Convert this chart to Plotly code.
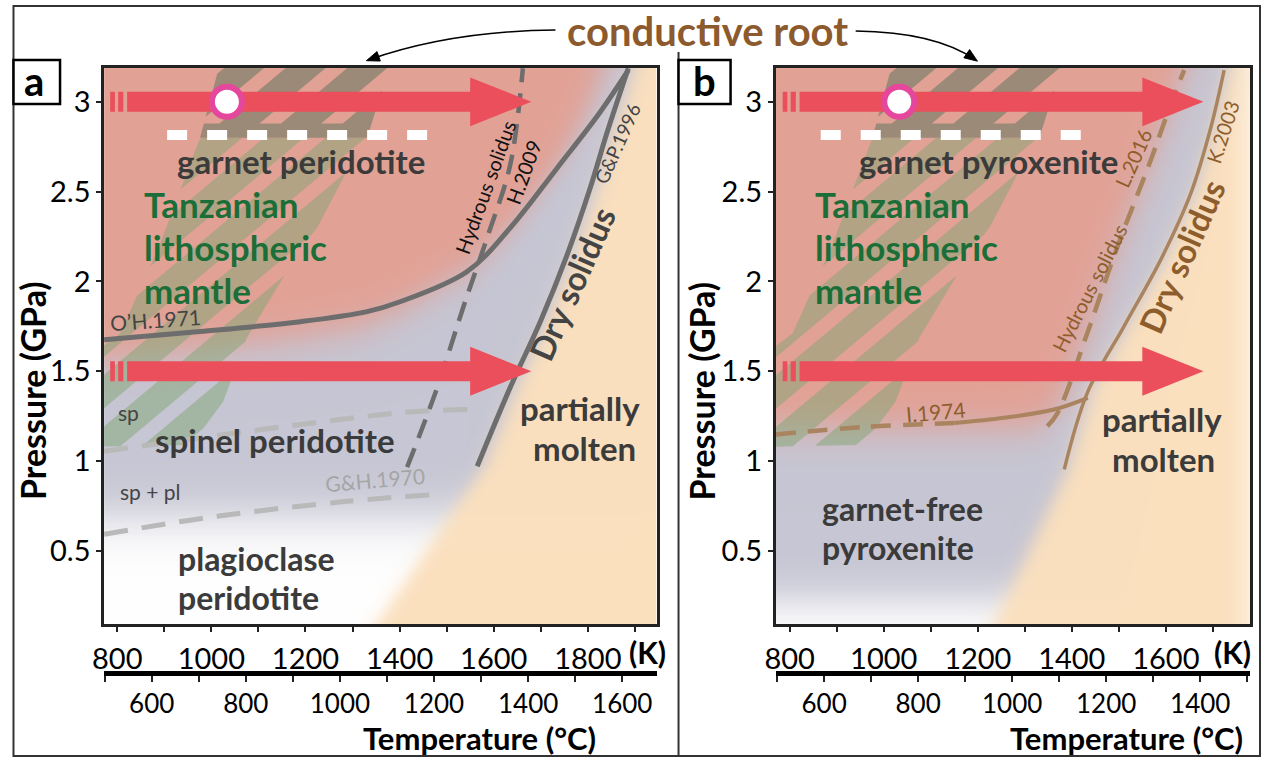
import numpy as np
import plotly.graph_objects as go
import zlib, struct, base64

# ------------------------------------------------------------------ data
# panel a : peridotite (K, GPa)
oh_K = [772, 976, 1189, 1331, 1401, 1543, 1635, 1735, 1826, 1886]           # O'H.1971
oh_P = [1.675, 1.721, 1.776, 1.832, 1.887, 2.054, 2.298, 2.632, 2.942, 3.176]
gp_K = [1565, 1635, 1699, 1756, 1805, 1841, 1869, 1886]                      # G&P.1996 dry solidus
gp_P = [0.971, 1.409, 1.776, 2.148, 2.52, 2.83, 3.053, 3.187]
h09_K = [1416, 1480, 1535, 1588, 1635, 1662]                                  # H.2009 hydrous solidus
h09_P = [0.966, 1.409, 1.854, 2.259, 2.648, 3.187]
ghu_K = [772, 1401, 1545]                                                     # G&H.1970 sp / sp+pl
ghu_P = [1.054, 1.269, 1.287]
ghl_K = [772, 1012, 1288, 1482]                                               # G&H.1970 sp+pl / pl
ghl_P = [0.593, 0.693, 0.776, 0.815]
melt_a_P = [0.0, 0.971, 1.409, 1.776, 2.148, 2.52, 2.83, 3.053, 3.25]
melt_a_K = [1328, 1580, 1650, 1714, 1771, 1820, 1856, 1884, 1905]

# panel b : pyroxenite
k03_K = [1384, 1433, 1511, 1589, 1653, 1696, 1724]                            # K.2003 dry solidus
k03_P = [0.954, 1.38, 1.75, 2.12, 2.49, 2.86, 3.176]
l16_K = [1348, 1370, 1433, 1497, 1568, 1611, 1639]                            # L.2016 hydrous solidus
l16_P = [1.194, 1.269, 1.713, 2.194, 2.676, 2.991, 3.176]
i74d_K = [770, 960, 1150]                                                     # I.1974 (dashed part)
i74d_P = [1.148, 1.19, 1.212]
i74_K = [1150, 1256, 1362, 1434]                                              # I.1974 (solid part)
i74_P = [1.212, 1.241, 1.287, 1.352]
melt_b_P = [0.0, 0.954, 1.38, 1.75, 2.12, 2.49, 2.86, 3.25]
melt_b_K = [1218, 1392, 1441, 1519, 1597, 1661, 1704, 1740]

# geotherm arrows / xenolith
arrow_P = [3.0, 1.5]
arrow_K = [821, 1550, 1680]          # bar start, head base, tip
stub_K = [[785, 795], [802, 813]]
xeno_K, xeno_P = 1033, 3.0
dash_P = 2.815
dash_a_K = [906, 1459]
dash_b_K = [866, 1419]

# Tanzanian lithospheric mantle band
band_K = [1022, 1385, 1331, 1301, 1225, 1189, 1076, 1025, 957, 760, 760, 806, 890, 976]
band_P = [3.25, 3.25, 2.80, 2.68, 2.30, 2.18, 1.69, 1.33, 1.09, 1.08, 1.62, 1.71, 2.20, 2.80]
stripe_starts = [-427 + 131 * n for n in range(8)]
stripe_w = 85
stripe_slope = 456.0
band_cut = [2.80, 2.88]

xr_a = [772, 1946]
xr_b = [770, 1779]
yr = [0.093, 3.19]
C0 = 273.15

# ------------------------------------------------------------------ helpers
W, H = 1262, 757
SX, OX = 0.9897, 12.0          # page -> picture horizontal mapping of the capture
def px(x):
    return ((x - OX) / SX) / W
def py(y):
    return 1 - y / H
def gpa(y):
    return (641.7 - y) / 180.0

def sig(z):
    return 1.0 / (1.0 + np.exp(-np.clip(z, -60, 60)))

RED = np.array([227, 161, 149.0])
LAV = np.array([198, 198, 212.0])
WHI = np.array([255, 255, 255.0])
PEA = np.array([251, 224, 190.0])

def mix(a, b, t):
    return a * (1 - t[..., None]) + b * t[..., None]

def full(c, shape):
    return np.broadcast_to(c, shape + (3,))

def field_a(nx, ny):
    K = np.linspace(xr_a[0], xr_a[1], nx)[None, :] * np.ones((ny, 1))
    P = np.linspace(yr[1], yr[0], ny)[:, None] * np.ones((1, nx))
    p_oh = np.interp(K, oh_K, oh_P)
    off = np.interp(K, [772, 1300, 1520], [-0.12, -0.08, 0.0])
    r = sig((P - (p_oh + off)) / 0.06) * sig((np.interp(P, gp_P, gp_K) - 50 - K) / 20)
    wh = sig((0.68 - P) / 0.08)
    o = sig((K - np.interp(P, melt_a_P, melt_a_K)) / 12)
    c = mix(full(LAV, K.shape), full(WHI, K.shape), wh)
    c = mix(c, full(RED, K.shape), r)
    c = mix(c, full(PEA, K.shape), o)
    return np.clip(c, 0, 255).astype(np.uint8)

def field_b(nx, ny):
    K = np.linspace(xr_b[0], xr_b[1], nx)[None, :] * np.ones((ny, 1))
    P = np.linspace(yr[1], yr[0], ny)[:, None] * np.ones((1, nx))
    r = sig((P - 1.18) / 0.06) * sig((np.interp(P, l16_P, l16_K) - K) / 20)
    wh = sig((0.22 - P) / 0.07)
    o = sig((K - np.interp(P, melt_b_P, melt_b_K)) / 12)
    fade = 0.5 * sig((K - 1762) / 12)
    c = mix(full(LAV, K.shape), full(WHI, K.shape), wh)
    c = mix(c, full(RED, K.shape), r)
    pe = mix(full(PEA, K.shape), full(WHI, K.shape), fade)
    c = mix(c, pe, o)
    return np.clip(c, 0, 255).astype(np.uint8)

def png_uri(rgb):
    h, w, _ = rgb.shape
    raw = b''.join(b'\x00' + rgb[i].tobytes() for i in range(h))
    def chunk(tag, data):
        return struct.pack('>I', len(data)) + tag + data + struct.pack('>I', zlib.crc32(tag + data) & 0xffffffff)
    png = (b'\x89PNG\r\n\x1a\n' + chunk(b'IHDR', struct.pack('>IIBBBBB', w, h, 8, 2, 0, 0, 0))
           + chunk(b'IDAT', zlib.compress(raw, 9)) + chunk(b'IEND', b''))
    return 'data:image/png;base64,' + base64.b64encode(png).decode()

def clip(poly, a, b, c0):
    out = []
    n = len(poly)
    for i in range(n):
        p, q = poly[i], poly[(i + 1) % n]
        fp = a * p[0] + b * p[1] + c0
        fq = a * q[0] + b * q[1] + c0
        if fp >= 0:
            out.append(p)
        if (fp >= 0) != (fq >= 0):
            t = fp / (fp - fq)
            out.append((p[0] + t * (q[0] - p[0]), p[1] + t * (q[1] - p[1])))
    return out

def band_polys():
    env = list(zip(band_K, band_P))
    dark, olive = [], []
    for h0 in stripe_starts:
        s = clip(env, 1.0, -stripe_slope, -h0)
        s = clip(s, -1.0, stripe_slope, h0 + stripe_w)
        up = clip(s, 0.0, 1.0, -band_cut[1])
        lo = clip(s, 0.0, -1.0, band_cut[0])
        if len(up) > 2:
            dark.append(up)
        if len(lo) > 2:
            olive.append(lo)
    dark.append(clip(clip(env, 0.0, 1.0, -band_cut[0]), 0.0, -1.0, band_cut[1]))
    return dark, olive

def join(polys):
    xs, ys = [], []
    for p in polys:
        xs += [q[0] for q in p] + [p[0][0], None]
        ys += [q[1] for q in p] + [p[0][1], None]
    return xs, ys

fig = go.Figure()
GRAY = '#6d6d6d'
LGRAY = '#b9b9b9'
BROWN = '#a9845f'
BTXT = '#8e5d2c'
DARK = '#3b3b3b'
GREEN = '#1b6e38'
ARROW = '#ea4f5b'

def add_band(xa, ya):
    dark, olive = band_polys()
    x, y = join(olive)
    fig.add_trace(go.Scatter(x=x, y=y, fill='toself', fillcolor='rgba(128,165,115,0.5)', mode='lines',
                             line=dict(width=0), xaxis=xa, yaxis=ya, hoverinfo='skip'))
    x, y = join(dark)
    fig.add_trace(go.Scatter(x=x, y=y, fill='toself', fillcolor='#9b8a78', mode='lines',
                             line=dict(width=0), xaxis=xa, yaxis=ya, hoverinfo='skip'))

def add_line(xa, ya, k, p, color, width, dash='solid', shape='spline'):
    fig.add_trace(go.Scatter(x=k, y=p, mode='lines', line=dict(color=color, width=width, dash=dash, shape=shape),
                             xaxis=xa, yaxis=ya, hoverinfo='skip'))

def add_arrows(xa, ya, dash_K):
    fig.add_trace(go.Scatter(x=dash_K, y=[dash_P, dash_P], mode='lines',
                             line=dict(color='white', width=10, dash='20px,20px'), xaxis=xa, yaxis=ya))
    bh, hh = 0.0556, 0.136
    xs, ys = [], []
    for p in arrow_P:
        xs += [arrow_K[0], arrow_K[1], arrow_K[1], arrow_K[2], arrow_K[1], arrow_K[1], arrow_K[0], arrow_K[0], None]
        ys += [p - bh, p - bh, p - hh, p, p + hh, p + bh, p + bh, p - bh, None]
        for s in stub_K:
            xs += [s[0], s[1], s[1], s[0], s[0], None]
            ys += [p - bh, p - bh, p + bh, p + bh, p - bh, None]
    fig.add_trace(go.Scatter(x=xs, y=ys, fill='toself', fillcolor=ARROW, mode='lines', line=dict(width=0),
                             xaxis=xa, yaxis=ya, hoverinfo='skip'))
    fig.add_trace(go.Scatter(x=[xeno_K], y=[xeno_P], mode='markers',
                             marker=dict(size=30, color='white', line=dict(color='#e5479c', width=6)),
                             xaxis=xa, yaxis=ya))

# panel a
add_band('x', 'y')
add_line('x', 'y', ghu_K, ghu_P, LGRAY, 5, '24px,14px')
add_line('x', 'y', ghl_K, ghl_P, LGRAY, 5, '24px,14px')
add_line('x', 'y', h09_K, h09_P, GRAY, 4.5, '20px,11px')
add_line('x', 'y', oh_K, oh_P, GRAY, 5)
add_line('x', 'y', gp_K, gp_P, GRAY, 5)
add_arrows('x', 'y', dash_a_K)

# panel b
add_band('x2', 'y2')
add_line('x2', 'y2', i74d_K, i74d_P, BROWN, 4.5, '20px,12px')
add_line('x2', 'y2', i74_K, i74_P, BROWN, 4)
add_line('x2', 'y2', l16_K, l16_P, BROWN, 4.5, '20px,11px')
add_line('x2', 'y2', k03_K, k03_P, BROWN, 3.5)
add_arrows('x2', 'y2', dash_b_K)

# invisible anchors so that the °C axes are drawn
fig.add_trace(go.Scatter(x=[xr_a[0] - C0, xr_a[1] - C0], y=[-5, -5], mode='markers', marker=dict(opacity=0),
                         xaxis='x3', yaxis='y', hoverinfo='skip'))
fig.add_trace(go.Scatter(x=[xr_b[0] - C0, xr_b[1] - C0], y=[-5, -5], mode='markers', marker=dict(opacity=0),
                         xaxis='x4', yaxis='y2', hoverinfo='skip'))

# ------------------------------------------------------------------ axes
dom_y = [py(624), py(67.7)]
dom_a = [px(104), px(656)]
dom_b = [px(775), px(1249)]
tickfont = dict(family='Lato', size=29, color='black')

def kticks(lo, hi):
    vals = [v for v in range(800, 1901, 100) if lo <= v <= hi]
    return vals, [str(v) if v % 200 == 0 else '' for v in vals]

def cticks(lo, hi):
    vals = [v for v in range(500, 1701, 100) if lo <= v <= hi]
    return vals, [str(v) if v % 200 == 0 else '' for v in vals]

common_x = dict(showline=True, linecolor='#222', linewidth=2.5, mirror=True, ticks='outside', ticklen=5,
                tickwidth=1.5, tickcolor='#222', showgrid=False, zeroline=False, tickfont=tickfont,
                ticklabelstandoff=2, fixedrange=True)
common_y = dict(showline=True, linecolor='#222', linewidth=2.5, mirror=True, ticks='outside', ticklen=5,
                tickwidth=1.5, tickcolor='#222', showgrid=False, zeroline=False, tickfont=tickfont,
                range=yr, tickvals=[0.5, 1, 1.5, 2, 2.5, 3], ticktext=['0.5', '1', '1.5', '2', '2.5', '3'],
                domain=dom_y, fixedrange=True)

va, ta = kticks(*xr_a)
vb, tb = kticks(*xr_b)
ca, cta = cticks(xr_a[0] - C0, xr_a[1] - C0)
cb, ctb = cticks(xr_b[0] - C0, xr_b[1] - C0)
cax = dict(showline=True, linecolor='black', linewidth=5, ticks='outside', ticklen=6, tickwidth=1.5,
           tickcolor='#222', showgrid=False, zeroline=False, tickfont=dict(family='Lato', size=26, color='black'),
           anchor='free', position=py(673), side='bottom', ticklabelstandoff=0, fixedrange=True)

fig.update_layout(
    width=W, height=H, margin=dict(l=0, r=0, t=0, b=0),
    paper_bgcolor='white', plot_bgcolor='white', showlegend=False,
    xaxis=dict(common_x, domain=dom_a, range=xr_a, tickvals=va, ticktext=ta, anchor='y'),
    yaxis=dict(common_y, anchor='x'),
    xaxis2=dict(common_x, domain=dom_b, range=xr_b, tickvals=vb, ticktext=tb, anchor='y2'),
    yaxis2=dict(common_y, anchor='x2'),
    xaxis3=dict(cax, overlaying='x', domain=dom_a, range=[xr_a[0] - C0, xr_a[1] - C0], tickvals=ca, ticktext=cta),
    xaxis4=dict(cax, overlaying='x2', domain=dom_b, range=[xr_b[0] - C0, xr_b[1] - C0], tickvals=cb, ticktext=ctb),
)

fig.add_layout_image(dict(source=png_uri(field_a(460, 460)), xref='x', yref='y', x=xr_a[0], y=yr[1],
                          sizex=xr_a[1] - xr_a[0], sizey=yr[1] - yr[0], sizing='stretch', layer='below',
                          xanchor='left', yanchor='top'))
fig.add_layout_image(dict(source=png_uri(field_b(400, 460)), xref='x2', yref='y2', x=xr_b[0], y=yr[1],
                          sizex=xr_b[1] - xr_b[0], sizey=yr[1] - yr[0], sizing='stretch', layer='below',
                          xanchor='left', yanchor='top'))

# ------------------------------------------------------------------ text
def ann(x, y, text, size, color=DARK, bold=True, angle=0, xanchor='center', xref='x', yref='y'):
    return dict(x=x, y=y, xref=xref, yref=yref, text=(f'<b>{text}</b>' if bold else text), showarrow=False,
                font=dict(family='Lato', size=size, color=color), textangle=angle, xanchor=xanchor,
                yanchor='middle')

labels_a = [
    ('garnet peridotite', 1190, gpa(161), 33, DARK, True, 0, 'center'),
    ('Tanzanian', 853, gpa(204), 35, GREEN, True, 0, 'left'),
    ('lithospheric', 853, gpa(247), 35, GREEN, True, 0, 'left'),
    ('mantle', 853, gpa(290), 35, GREEN, True, 0, 'left'),
    ('O\u2019H.1971', 882, gpa(320), 21, '#444', False, -4, 'center'),
    ('Hydrous solidus', 1582, 2.526, 20, '#111', False, -70, 'center'),
    ('H.2009', 1663, 2.61, 20, '#111', False, -70, 'center'),
    ('G&amp;P.1996', 1862, 2.77, 19, '#444', False, -66, 'center'),
    ('Dry solidus', 1767, 1.99, 33, '#444', True, -66, 'center'),
    ('sp', 823, 1.27, 21, '#444', False, 0, 'center'),
    ('spinel peridotite', 1135, 1.12, 33, DARK, True, 0, 'center'),
    ('sp + pl', 870, 0.83, 21, '#444', False, 0, 'center'),
    ('G&amp;H.1970', 1348, 0.90, 21, '#a5a5a5', False, -5, 'center'),
    ('plagioclase', 925, gpa(559), 32, DARK, True, 0, 'left'),
    ('peridotite', 925, gpa(598), 32, DARK, True, 0, 'left'),
    ('partially', 1784, gpa(409), 33, DARK, True, 0, 'center'),
    ('molten', 1792, gpa(449), 33, DARK, True, 0, 'center'),
]
labels_b = [
    ('garnet pyroxenite', 1223, gpa(161), 33, DARK, True, 0, 'center'),
    ('Tanzanian', 849, gpa(204), 35, GREEN, True, 0, 'left'),
    ('lithospheric', 849, gpa(247), 35, GREEN, True, 0, 'left'),
    ('mantle', 849, gpa(290), 35, GREEN, True, 0, 'left'),
    ('I.1974', 1112, 1.276, 21, BTXT, False, -5, 'center'),
    ('Hydrous solidus', 1437, 1.965, 20, BTXT, False, -63, 'center'),
    ('L.2016', 1530, 2.69, 20, BTXT, False, -66, 'center'),
    ('Dry solidus', 1634, 2.14, 33, BTXT, True, -66, 'center'),
    ('K.2003', 1721, 2.83, 20, BTXT, False, -72, 'center'),
    ('garnet-free', 864, gpa(509), 32, DARK, True, 0, 'left'),
    ('pyroxenite', 864, gpa(548), 32, DARK, True, 0, 'left'),
    ('partially', 1591, gpa(420), 33, DARK, True, 0, 'center'),
    ('molten', 1594, gpa(460), 33, DARK, True, 0, 'center'),
]
anns = []
for t, k, p, s, c, b, a, xa in labels_a:
    anns.append(ann(k, p, t, s, c, b, a, xa, 'x', 'y'))
for t, k, p, s, c, b, a, xa in labels_b:
    anns.append(ann(k, p, t, s, c, b, a, xa, 'x2', 'y2'))

for cx in (32, 700):
    anns.append(ann(px(cx), py(391), 'Pressure (GPa)', 34, 'black', True, -90, 'center', 'paper', 'paper'))
for cx in (479, 1126):
    anns.append(ann(px(cx), py(738), 'Temperature (°C)', 31, 'black', True, 0, 'center', 'paper', 'paper'))
for cx in (647, 1232):
    anns.append(ann(px(cx), py(652), '(K)', 30, 'black', True, 0, 'center', 'paper', 'paper'))
anns.append(ann(px(34), py(81), 'a', 40, 'black', True, 0, 'center', 'paper', 'paper'))
anns.append(ann(px(704), py(81), 'b', 40, 'black', True, 0, 'center', 'paper', 'paper'))
anns.append(ann(px(707), py(31), 'conductive root', 40, '#8c5a2d', True, 0, 'center', 'paper', 'paper'))
fig.update_layout(annotations=anns)

# ------------------------------------------------------------------ frame & pointer arrows
def P(x, y):
    return f'{px(x):.5f},{py(y):.5f}'

def curved_arrow(x0, y0, cx, cy, x1, y1):
    d = np.array([x1 - cx, y1 - cy], float)
    u = d / np.hypot(*d)
    n = np.array([-u[1], u[0]])
    tip = np.array([x1, y1]) + u * 2
    base = tip - u * 13
    b1 = base + n * 5
    b2 = base - n * 5
    line = dict(type='path', xref='paper', yref='paper', path=f'M {P(x0, y0)} Q {P(cx, cy)} {P(x1, y1)}',
                line=dict(color='black', width=1.6))
    head = dict(type='path', xref='paper', yref='paper',
                path=f'M {P(*tip)} L {P(*b1)} L {P(*b2)} Z', fillcolor='black', line=dict(color='black', width=1))
    return [line, head]

left_edge = max(px(8), 1.5 / W)
shapes = [
    dict(type='rect', xref='paper', yref='paper', x0=left_edge, x1=px(1259), y0=py(756), y1=py(6),
         line=dict(color='#333', width=2)),
    dict(type='line', xref='paper', yref='paper', x0=px(678), x1=px(678), y0=py(756), y1=py(52),
         line=dict(color='#333', width=2)),
    dict(type='rect', xref='paper', yref='paper', x0=left_edge, x1=px(60), y0=py(104), y1=py(60),
         line=dict(color='black', width=2.5), fillcolor='white'),
    dict(type='rect', xref='paper', yref='paper', x0=px(678), x1=px(730), y0=py(104), y1=py(60),
         line=dict(color='black', width=2.5), fillcolor='white'),
]
shapes += curved_arrow(555, 30, 450, 31, 368, 60)
shapes += curved_arrow(855, 31, 935, 32, 975, 60)
fig.update_layout(shapes=shapes)

fig.write_html('out.html', config={'displayModeBar': False},
               post_script="document.body.style.margin='0px';document.body.style.overflow='hidden';")
